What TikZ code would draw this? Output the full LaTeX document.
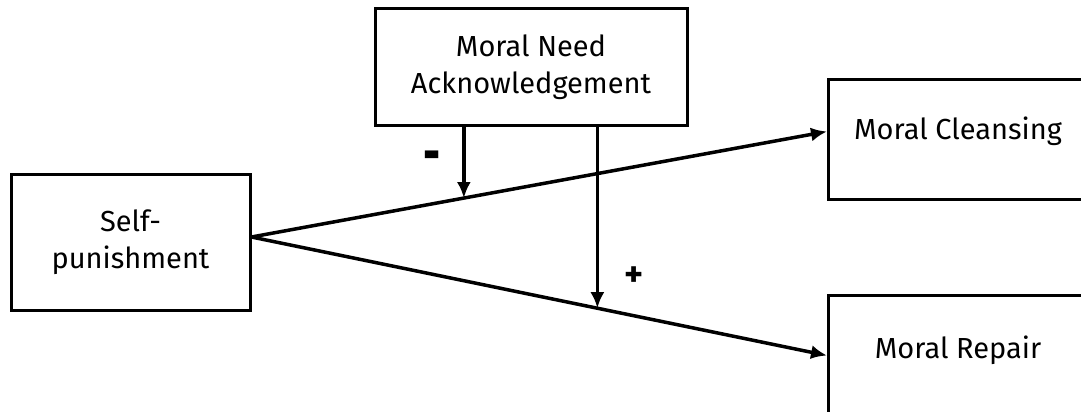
\documentclass[tikz,border=0pt]{standalone}
\usepackage{fontspec}
\setmainfont{Fira Sans}
\usetikzlibrary{positioning,arrows.meta,calc}

\begin{document}
\begin{tikzpicture}[x=1pt,y=-1pt,
	box/.style={draw, line width=3pt, inner sep=0pt},
	link/.style={line width=3.5pt, -{Latex[length=16pt,width=14pt]}},
	every node/.style={font=\fontsize{29}{37}\selectfont}]
\useasboundingbox (0,0) rectangle (1081,412);
\clip (0,0) rectangle (1081,412);
\node[box, minimum width=239, minimum height=136, align=center] (self) at (130.5,242) {Self-\\punishment};
\node[box, minimum width=312, minimum height=116, align=center] (need) at (531,67) {Moral Need\\Acknowledgement};
\node[box, minimum width=262, minimum height=120, anchor=north west] (clean) at (827,78) {};
\node[anchor=base] (cleantext) at (958,139) {Moral Cleansing};
\node[box, minimum width=262, minimum height=120, anchor=north west] (repair) at (827,294) {};
\node[anchor=base] (repairtext) at (958,358) {Moral Repair};
\coordinate (start) at ([yshift=5pt]self.east);
\coordinate (top) at ([yshift=8pt]clean.west);
\draw[link] (start) -- (top);
\draw[link] (start) -- (repair.west);
\coordinate (m1) at ($(start)!0.369!(top)$);
\coordinate (m2) at ($(start)!0.601!(repair.west)$);
\draw[link] (need.south -| m1) -- (m1);
\draw[link] (need.south -| m2) -- (m2);
\node[font=\fontsize{42}{42}\bfseries, yscale=1.5] (minus) at (432,163) {-};
\node[font=\fontsize{36}{36}\bfseries] (plus) at (634,277) {+};
\end{tikzpicture}
\end{document}
